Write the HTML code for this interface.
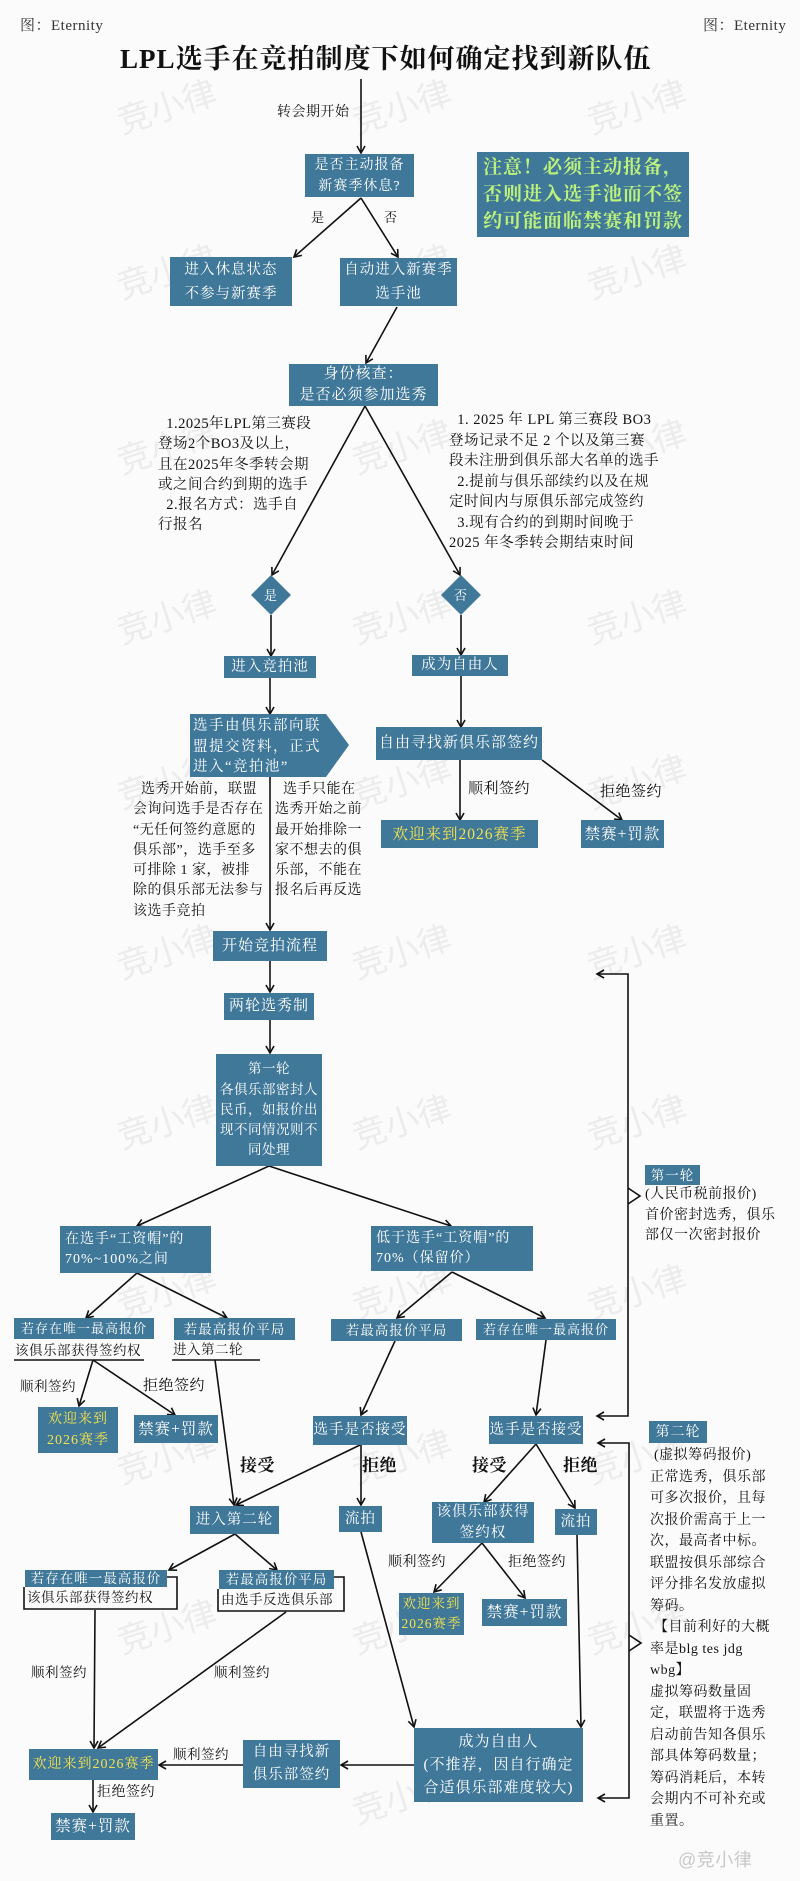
<!DOCTYPE html>
<html><head><meta charset="utf-8">
<style>
*{margin:0;padding:0;box-sizing:border-box}
body{width:800px;height:1881px;background:#fbfbfb;position:relative;overflow:hidden;font-family:"Liberation Serif","Noto Serif CJK SC",serif;color:#111}
.b{position:absolute;background:#40789a;color:#fff;display:flex;align-items:center;justify-content:center;text-align:center;font-size:15px;line-height:21px;letter-spacing:1px;white-space:nowrap}
.y{color:#f3e24c}
.t{position:absolute;font-size:14.5px;line-height:20.5px;white-space:nowrap;letter-spacing:0.5px}
svg{position:absolute;left:0;top:0}
.wm{position:absolute;color:#ececec;font-size:34px;transform:rotate(-18deg);font-family:"Noto Sans CJK SC",sans-serif}
</style></head><body>
<div class="wm" style="left:115px;top:80px">竞小律</div>
<div class="wm" style="left:350px;top:80px">竞小律</div>
<div class="wm" style="left:585px;top:80px">竞小律</div>
<div class="wm" style="left:115px;top:245px">竞小律</div>
<div class="wm" style="left:350px;top:245px">竞小律</div>
<div class="wm" style="left:585px;top:245px">竞小律</div>
<div class="wm" style="left:115px;top:420px">竞小律</div>
<div class="wm" style="left:350px;top:420px">竞小律</div>
<div class="wm" style="left:585px;top:420px">竞小律</div>
<div class="wm" style="left:115px;top:590px">竞小律</div>
<div class="wm" style="left:350px;top:590px">竞小律</div>
<div class="wm" style="left:585px;top:590px">竞小律</div>
<div class="wm" style="left:115px;top:755px">竞小律</div>
<div class="wm" style="left:350px;top:755px">竞小律</div>
<div class="wm" style="left:585px;top:755px">竞小律</div>
<div class="wm" style="left:115px;top:925px">竞小律</div>
<div class="wm" style="left:350px;top:925px">竞小律</div>
<div class="wm" style="left:585px;top:925px">竞小律</div>
<div class="wm" style="left:115px;top:1095px">竞小律</div>
<div class="wm" style="left:350px;top:1095px">竞小律</div>
<div class="wm" style="left:585px;top:1095px">竞小律</div>
<div class="wm" style="left:115px;top:1265px">竞小律</div>
<div class="wm" style="left:350px;top:1265px">竞小律</div>
<div class="wm" style="left:585px;top:1265px">竞小律</div>
<div class="wm" style="left:115px;top:1430px">竞小律</div>
<div class="wm" style="left:350px;top:1430px">竞小律</div>
<div class="wm" style="left:585px;top:1430px">竞小律</div>
<div class="wm" style="left:115px;top:1600px">竞小律</div>
<div class="wm" style="left:350px;top:1600px">竞小律</div>
<div class="wm" style="left:585px;top:1600px">竞小律</div>
<div class="wm" style="left:350px;top:1770px">竞小律</div>

<div class="t" style="left:20px;top:16px;font-size:15px;color:#333">图：Eternity</div>
<div class="t" style="left:703px;top:16px;font-size:15px;color:#333">图：Eternity</div>
<div class="t" style="left:120px;top:43px;font-size:27px;line-height:32px;letter-spacing:1px;font-weight:bold">LPL选手在竞拍制度下如何确定找到新队伍</div>

<svg width="800" height="1881">
<defs><marker id="a" markerWidth="10" markerHeight="10" refX="8" refY="5" orient="auto" markerUnits="userSpaceOnUse"><path d="M1,1 L8,5 L1,9" fill="none" stroke="#111" stroke-width="1.6"/></marker></defs>
<g stroke="#111" stroke-width="1.6" fill="none" marker-end="url(#a)">
<line x1="361" y1="79" x2="361" y2="153"/>
<line x1="361" y1="198" x2="294" y2="257"/>
<line x1="361" y1="198" x2="398" y2="257"/>
<line x1="397" y1="307" x2="366" y2="363"/>
<line x1="365" y1="406" x2="272" y2="575"/>
<line x1="365" y1="406" x2="460" y2="575"/>
<line x1="271" y1="615" x2="271" y2="656"/>
<line x1="461" y1="615" x2="461" y2="655"/>
<line x1="270" y1="678" x2="270" y2="714"/>
<line x1="461" y1="676" x2="461" y2="727"/>
<line x1="460" y1="760" x2="460" y2="820"/>
<line x1="542" y1="760" x2="622" y2="820"/>
<line x1="270" y1="777" x2="270" y2="930"/>
<line x1="270" y1="961" x2="270" y2="992"/>
<line x1="270" y1="1020" x2="270" y2="1053"/>
<line x1="269" y1="1166" x2="137" y2="1226"/>
<line x1="269" y1="1166" x2="451" y2="1226"/>
<line x1="137" y1="1273" x2="86" y2="1318"/>
<line x1="137" y1="1273" x2="227" y2="1318"/>
<line x1="452" y1="1272" x2="397" y2="1318"/>
<line x1="452" y1="1272" x2="545" y2="1318"/>
<line x1="93" y1="1360" x2="79" y2="1406"/>
<line x1="93" y1="1360" x2="175" y2="1415"/>
<line x1="215" y1="1360" x2="234" y2="1505"/>
<line x1="395" y1="1341" x2="361" y2="1415"/>
<line x1="546" y1="1340" x2="536" y2="1415"/>
<line x1="360" y1="1445" x2="236" y2="1505"/>
<line x1="361" y1="1445" x2="361" y2="1505"/>
<line x1="536" y1="1444" x2="484" y2="1502"/>
<line x1="536" y1="1444" x2="575" y2="1508"/>
<line x1="235" y1="1534" x2="169" y2="1570"/>
<line x1="235" y1="1534" x2="277" y2="1570"/>
<line x1="482" y1="1543" x2="434" y2="1592"/>
<line x1="482" y1="1543" x2="525" y2="1598"/>
<line x1="95" y1="1610" x2="94" y2="1748"/>
<line x1="286" y1="1612" x2="98" y2="1748"/>
<line x1="361" y1="1532" x2="414" y2="1727"/>
<line x1="577" y1="1535" x2="581" y2="1727"/>
<line x1="414" y1="1765" x2="341" y2="1765"/>
<line x1="243" y1="1765" x2="159" y2="1765"/>
<line x1="93" y1="1780" x2="93" y2="1812"/>
<polyline points="628,1196 628,974 597,974"/>
<polyline points="628,1196 628,1416 597,1416"/>
<polyline points="629,1643 629,1443 598,1443"/>
<polyline points="629,1643 629,1798 598,1798"/>
</g>
<g stroke="#111" stroke-width="1.6" fill="none">
<polyline points="628,1188 640,1196 628,1204"/>
<polyline points="629,1635 641,1643 629,1651"/>
<line x1="14" y1="1360" x2="144" y2="1360"/>
<line x1="172" y1="1360" x2="260" y2="1360"/>
<polyline points="167,1577 177,1577 177,1609 24,1609 24,1587"/>
<polyline points="334,1577 344,1577 344,1611 218,1611 218,1589"/>
</g>
<g fill="#40789a">
<polygon points="271,575 291,595 271,615 251,595"/>
<polygon points="461,575 481,595 461,615 441,595"/>
<polygon points="190,714 326,714 349,745 326,777 190,777"/>
</g>
</svg>

<div class="t" style="left:277px;top:103px;font-size:14px">转会期开始</div>
<div class="b" style="left:305px;top:154px;width:109px;height:43px;font-size:14px">是否主动报备<br>新赛季休息?</div>
<div class="b" style="left:477px;top:152px;width:212px;height:85px;color:#bdf27a;font-size:19px;line-height:27px;font-weight:bold">注意！必须主动报备，<br>否则进入选手池而不签<br>约可能面临禁赛和罚款</div>
<div class="t" style="left:311px;top:208px;font-size:13px">是</div>
<div class="t" style="left:384px;top:208px;font-size:13px">否</div>
<div class="b" style="left:170px;top:257px;width:122px;height:49px;font-size:14.5px;line-height:24px">进入休息状态<br>不参与新赛季</div>
<div class="b" style="left:340px;top:258px;width:117px;height:48px;font-size:14.5px;line-height:24px">自动进入新赛季<br>选手池</div>
<div class="b" style="left:289px;top:364px;width:149px;height:42px;font-size:15px">身份核查：<br>是否必须参加选秀</div>
<div class="t" style="left:158px;top:414px;line-height:20.3px">&nbsp;&nbsp;1.2025年LPL第三赛段<br>登场2个BO3及以上，<br>且在2025年冬季转会期<br>或之间合约到期的选手<br>&nbsp;&nbsp;2.报名方式：选手自<br>行报名</div>
<div class="t" style="left:449px;top:410px;line-height:20.5px">&nbsp;&nbsp;1. 2025 年 LPL 第三赛段 BO3<br>登场记录不足 2 个以及第三赛<br>段未注册到俱乐部大名单的选手<br>&nbsp;&nbsp;2.提前与俱乐部续约以及在规<br>定时间内与原俱乐部完成签约<br>&nbsp;&nbsp;3.现有合约的到期时间晚于<br>2025 年冬季转会期结束时间</div>
<div class="b" style="left:251px;top:575px;width:40px;height:40px;background:none;font-size:13px">是</div>
<div class="b" style="left:441px;top:575px;width:40px;height:40px;background:none;font-size:13px">否</div>
<div class="b" style="left:224px;top:656px;width:92px;height:22px;font-size:14.5px">进入竞拍池</div>
<div class="b" style="left:412px;top:655px;width:96px;height:21px;font-size:14.5px">成为自由人</div>
<div class="t" style="left:193px;top:716px;color:#fff;font-size:14.5px;line-height:20.5px;letter-spacing:1.5px">选手由俱乐部向联<br>盟提交资料，正式<br>进入“竞拍池”</div>
<div class="b" style="left:376px;top:727px;width:166px;height:33px;font-size:15px">自由寻找新俱乐部签约</div>
<div class="t" style="left:468px;top:779px;font-size:15px">顺利签约</div>
<div class="t" style="left:600px;top:782px;font-size:15px">拒绝签约</div>
<div class="b y" style="left:381px;top:820px;width:157px;height:28px;font-size:15.5px">欢迎来到2026赛季</div>
<div class="b" style="left:581px;top:820px;width:83px;height:28px;font-size:15.5px">禁赛+罚款</div>
<div class="t" style="left:133px;top:780px;line-height:20.3px;font-size:14px">&nbsp;&nbsp;选秀开始前，联盟<br>会询问选手是否存在<br>“无任何签约意愿的<br>俱乐部”，选手至多<br>可排除 1 家，被排<br>除的俱乐部无法参与<br>该选手竞拍</div>
<div class="t" style="left:275px;top:780px;line-height:20.3px;font-size:14px">&nbsp;&nbsp;选手只能在<br>选秀开始之前<br>最开始排除一<br>家不想去的俱<br>乐部，不能在<br>报名后再反选</div>
<div class="b" style="left:213px;top:931px;width:114px;height:30px">开始竞拍流程</div>
<div class="b" style="left:224px;top:993px;width:90px;height:27px">两轮选秀制</div>
<div class="b" style="left:216px;top:1054px;width:106px;height:112px;font-size:13.5px;line-height:20.3px;letter-spacing:0.5px">第一轮<br>各俱乐部密封人<br>民币，如报价出<br>现不同情况则不<br>同处理</div>
<div class="b" style="left:645px;top:1165px;width:55px;height:20px;font-size:13.5px">第一轮</div>
<div class="t" style="left:645px;top:1185px;font-size:14px;line-height:20.5px">(人民币税前报价)<br>首价密封选秀，俱乐<br>部仅一次密封报价</div>
<div class="b" style="left:60px;top:1226px;width:151px;height:47px;justify-content:flex-start;text-align:left;padding-left:5px;font-size:14px;line-height:20px">在选手“工资帽”的<br>70%~100%之间</div>
<div class="b" style="left:371px;top:1226px;width:162px;height:45px;justify-content:flex-start;text-align:left;padding-left:5px;font-size:14px;line-height:20px">低于选手“工资帽”的<br>70%（保留价）</div>
<div class="b" style="left:14px;top:1318px;width:140px;height:21px;font-size:13px">若存在唯一最高报价</div>
<div class="t" style="left:15px;top:1341px;font-size:13.5px">该俱乐部获得签约权</div>
<div class="b" style="left:174px;top:1318px;width:121px;height:22px;font-size:13.5px">若最高报价平局</div>
<div class="t" style="left:173px;top:1340px;font-size:13.5px">进入第二轮</div>
<div class="b" style="left:331px;top:1319px;width:131px;height:22px;font-size:13.5px">若最高报价平局</div>
<div class="b" style="left:476px;top:1319px;width:140px;height:21px;font-size:13px">若存在唯一最高报价</div>
<div class="t" style="left:20px;top:1377px;font-size:13.5px">顺利签约</div>
<div class="t" style="left:143px;top:1376px;font-size:15px">拒绝签约</div>
<div class="b y" style="left:38px;top:1407px;width:80px;height:46px;font-size:14px;line-height:21px">欢迎来到<br>2026赛季</div>
<div class="b" style="left:134px;top:1415px;width:84px;height:28px;font-size:15.5px">禁赛+罚款</div>
<div class="b" style="left:313px;top:1416px;width:94px;height:29px;font-size:14.5px">选手是否接受</div>
<div class="b" style="left:489px;top:1416px;width:94px;height:28px;font-size:14.5px">选手是否接受</div>
<div class="t" style="left:240px;top:1456px;font-size:17px;font-weight:bold">接受</div>
<div class="t" style="left:362px;top:1456px;font-size:17px;font-weight:bold">拒绝</div>
<div class="t" style="left:472px;top:1456px;font-size:17px;font-weight:bold">接受</div>
<div class="t" style="left:563px;top:1456px;font-size:17px;font-weight:bold">拒绝</div>
<div class="b" style="left:190px;top:1506px;width:89px;height:28px;font-size:14.5px">进入第二轮</div>
<div class="b" style="left:339px;top:1506px;width:43px;height:26px;font-size:14.5px">流拍</div>
<div class="b" style="left:432px;top:1502px;width:102px;height:41px;font-size:14.5px;line-height:21px">该俱乐部获得<br>签约权</div>
<div class="b" style="left:555px;top:1509px;width:42px;height:26px;font-size:14.5px">流拍</div>
<div class="b" style="left:649px;top:1421px;width:58px;height:22px;font-size:14px">第二轮</div>
<div class="t" style="left:650px;top:1445px;font-size:14px;line-height:21.5px">&nbsp;(虚拟筹码报价)<br>正常选秀，俱乐部<br>可多次报价，且每<br>次报价需高于上一<br>次，最高者中标。<br>联盟按俱乐部综合<br>评分排名发放虚拟<br>筹码。<br>&nbsp;【目前利好的大概<br>率是blg tes jdg<br>wbg】<br>虚拟筹码数量固<br>定，联盟将于选秀<br>启动前告知各俱乐<br>部具体筹码数量；<br>筹码消耗后，本转<br>会期内不可补充或<br>重置。</div>
<div class="b" style="left:25px;top:1570px;width:142px;height:17px;font-size:13.5px">若存在唯一最高报价</div>
<div class="t" style="left:27px;top:1588px;font-size:13.5px">该俱乐部获得签约权</div>
<div class="b" style="left:219px;top:1570px;width:115px;height:19px;font-size:13.5px">若最高报价平局</div>
<div class="t" style="left:221px;top:1590px;font-size:13.5px">由选手反选俱乐部</div>
<div class="t" style="left:388px;top:1553px;font-size:14px">顺利签约</div>
<div class="t" style="left:508px;top:1553px;font-size:14px">拒绝签约</div>
<div class="b y" style="left:399px;top:1593px;width:65px;height:42px;font-size:13.5px;line-height:20px">欢迎来到<br>2026赛季</div>
<div class="b" style="left:482px;top:1599px;width:85px;height:27px;font-size:15.5px">禁赛+罚款</div>
<div class="t" style="left:31px;top:1663px;font-size:13.5px">顺利签约</div>
<div class="t" style="left:214px;top:1663px;font-size:13.5px">顺利签约</div>
<div class="b y" style="left:29px;top:1749px;width:129px;height:31px;font-size:14px">欢迎来到2026赛季</div>
<div class="t" style="left:173px;top:1745px;font-size:13.5px">顺利签约</div>
<div class="b" style="left:243px;top:1740px;width:97px;height:48px;font-size:14.5px;line-height:23px">自由寻找新<br>俱乐部签约</div>
<div class="b" style="left:414px;top:1728px;width:169px;height:74px;font-size:15px;line-height:23px">成为自由人<br>(不推荐，因自行确定<br>合适俱乐部难度较大)</div>
<div class="t" style="left:97px;top:1783px;font-size:14px">拒绝签约</div>
<div class="b" style="left:51px;top:1813px;width:84px;height:27px;font-size:15.5px">禁赛+罚款</div>
<div class="t" style="left:678px;top:1850px;font-size:18px;color:#c8c8c8;font-family:'Liberation Sans','Noto Sans CJK SC',sans-serif">@竞小律</div>
</body></html>
